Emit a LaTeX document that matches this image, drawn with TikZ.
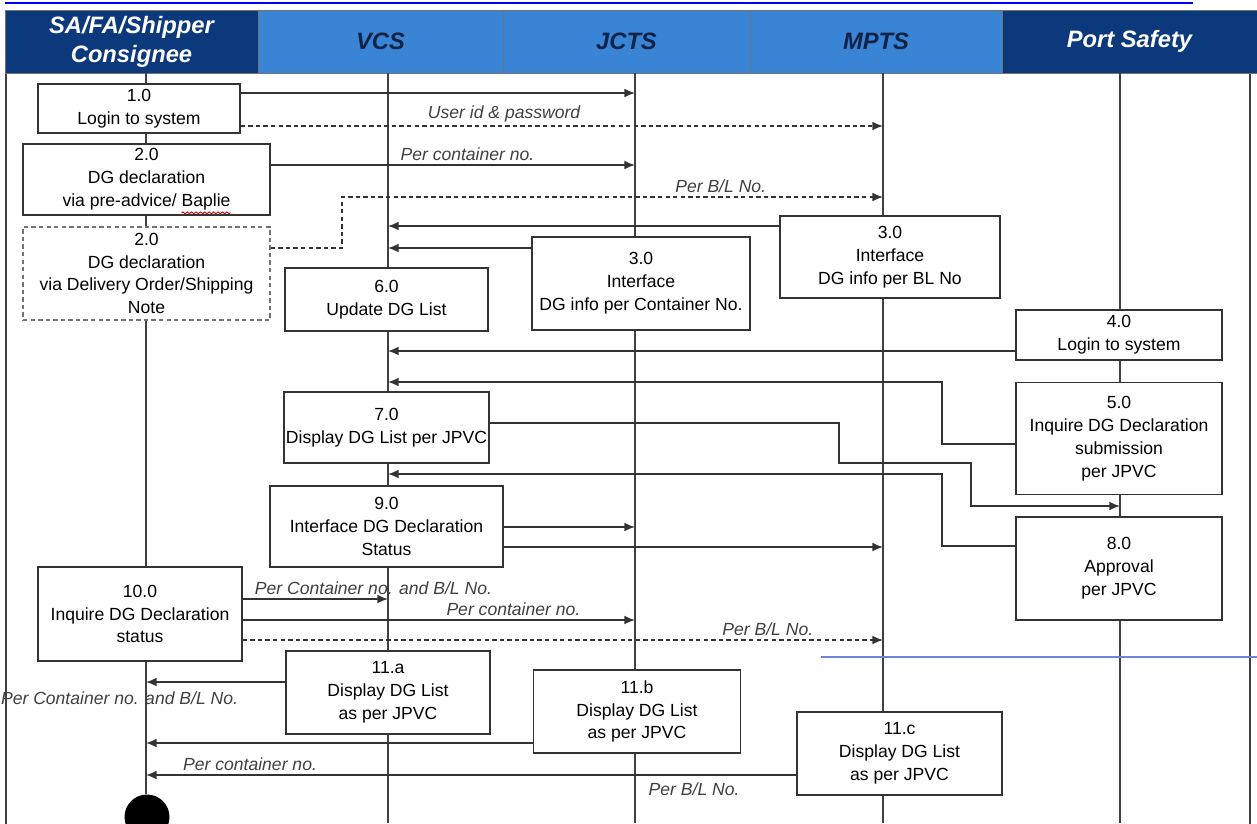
\documentclass[tikz,border=0pt]{standalone}
\usepackage{fontspec}
\setmainfont{Liberation Sans}
\usetikzlibrary{arrows.meta,decorations.pathmorphing}

\definecolor{bleuFonce}{RGB}{12,56,124}
\definecolor{bleuClair}{RGB}{58,132,214}
\definecolor{texteBleu}{RGB}{16,34,70}
\definecolor{traitBleu}{RGB}{110,130,215}

\begin{document}
\begin{tikzpicture}[x=0.02cm,y=-0.02cm]
	% Styles
	\def\px{0.02cm}
	\tikzstyle{entete}=[draw=black!55,line width=0.5pt,minimum height={63*\px},inner sep=0pt,align=center,font=\fontsize{13.5}{16.5}\selectfont\bfseries\itshape]
	\tikzstyle{boite}=[draw=black!80,fill=white,line width=0.9pt,align=center,inner sep=1pt,font=\fontsize{10}{13}\selectfont]
	\tikzstyle{boitePointillee}=[boite,draw=black!55,dash pattern=on 2.5pt off 1.8pt]
	\tikzstyle{ligneVie}=[-,draw=black!75,line width=0.8pt]
	\tikzstyle{fleche}=[-{Latex[length=6pt,width=5pt]},draw=black!80,line width=0.9pt]
	\tikzstyle{flechePointillee}=[fleche,dash pattern=on 2.5pt off 1.8pt]
	\tikzstyle{etiquette}=[inner sep=2pt,text=black!75,font=\fontsize{10}{12}\selectfont\itshape]
	% Dimensions
	\def\xSA{146}
	\def\xVCS{388}
	\def\xJCTS{635}
	\def\xMPTS{883}
	\def\xPS{1120}
	\def\yHaut{73}
	\def\yBas{823}
	% Cadre
	\useasboundingbox (0,0) rectangle (1257,823);
	\draw[blue,line width=1.2pt] (5,3) -- (1193,3);
	\draw[ligneVie] (6,\yHaut) rectangle (1250,840);
	% Entetes
	\node[entete,fill=bleuFonce,text=white,minimum width={253*\px}] (hSA) at (131.5,41.5) {SA/FA/Shipper\\Consignee};
	\node[entete,fill=bleuClair,text=texteBleu,minimum width={245*\px}] (hVCS) at (380.5,41.5) {VCS};
	\node[entete,fill=bleuClair,text=texteBleu,minimum width={247*\px}] (hJCTS) at (626.5,41.5) {JCTS};
	\node[entete,fill=bleuClair,text=texteBleu,minimum width={252*\px}] (hMPTS) at (876,41.5) {MPTS};
	\node[entete,fill=bleuFonce,text=white,minimum width={255*\px}] (hPS) at (1129.5,41.5) {Port Safety};
	% Lignes de vie
	\coordinate (lSA) at (\xSA,\yHaut);
	\coordinate (lVCS) at (\xVCS,\yHaut);
	\coordinate (lJCTS) at (\xJCTS,\yHaut);
	\coordinate (lMPTS) at (\xMPTS,\yHaut);
	\coordinate (lPS) at (\xPS,\yHaut);
	\node[circle,fill=black,minimum size={45*\px},inner sep=0pt] (fin) at (\xSA+1,817) {};
	\draw[ligneVie] (lSA) -- (lSA |- fin.north);
	\draw[ligneVie] (lVCS) -- (lVCS |- 0,\yBas);
	\draw[ligneVie] (lJCTS) -- (lJCTS |- 0,\yBas);
	\draw[ligneVie] (lMPTS) -- (lMPTS |- 0,\yBas);
	\draw[ligneVie] (lPS) -- (lPS |- 0,\yBas);
	% Noeuds
	\node[boite,minimum width={202*\px},minimum height={49*\px}] (b1) at (139,108.5) {1.0\\Login to system};
	\node[boite,minimum width={247*\px},minimum height={71*\px}] (b2) at (146.5,179.5) {2.0\\DG declaration\\via pre-advice/ Baplie};
	\node[boitePointillee,minimum width={247*\px},minimum height={93*\px}] (b2b) at (146.5,273.5) {2.0\\DG declaration\\via Delivery Order/Shipping\\Note};
	\node[boite,minimum width={218*\px},minimum height={93*\px}] (b3a) at (641,283.5) {3.0\\Interface\\DG info per Container No.};
	\node[boite,minimum width={220*\px},minimum height={82*\px}] (b3b) at (890,257) {3.0\\Interface\\DG info per BL No};
	\node[boite,minimum width={203*\px},minimum height={63*\px}] (b6) at (386.5,299.5) {6.0\\Update DG List};
	\node[boite,minimum width={206*\px},minimum height={50*\px}] (b4) at (1119,335) {4.0\\Login to system};
	\node[boite,minimum width={206*\px},minimum height={112*\px}] (b5) at (1119,438.5) {5.0\\Inquire DG Declaration\\submission\\per JPVC};
	\node[boite,minimum width={203*\px},minimum height={71*\px}] (b7) at (386.5,427.5) {7.0\\Display DG List per JPVC};
	\node[boite,minimum width={233*\px},minimum height={81*\px}] (b9) at (386.5,526.5) {9.0\\Interface DG Declaration\\Status};
	\node[boite,minimum width={206*\px},minimum height={103*\px}] (b8) at (1119,568.5) {8.0\\Approval\\per JPVC};
	\node[boite,minimum width={204*\px},minimum height={94*\px}] (b10) at (140,614) {10.0\\Inquire DG Declaration\\status};
	\node[boite,minimum width={204*\px},minimum height={83*\px}] (b11a) at (388,692.5) {11.a\\Display DG List\\as per JPVC};
	\node[boite,minimum width={207*\px},minimum height={83*\px}] (b11b) at (637,711.5) {11.b\\Display DG List\\as per JPVC};
	\node[boite,minimum width={205*\px},minimum height={83*\px}] (b11c) at (899.5,753.5) {11.c\\Display DG List\\as per JPVC};
	\draw[red!80!black,line width=0.5pt,decorate,decoration={snake,amplitude=0.5pt,segment length=2.5pt}] ([shift={(35,-3)}]b2.south) -- ([shift={(84,-3)}]b2.south);
	% Coudes
	\coordinate (coudeA) at (342,197);
	\coordinate (coudeB) at (942,382);
	\coordinate (coudeC) at (839,463);
	\coordinate (coudeD) at (971,506);
	\coordinate (coudeE) at (942,474);
	% Arcs
	\draw[fleche] (b1.east |- 0,93) -- (lJCTS |- 0,93);
	\draw[flechePointillee] (b1.east |- 0,126) -- (lMPTS |- 0,126) node[etiquette,pos=0.41,above] {User id \& password};
	\draw[fleche] (b2.east |- 0,165) -- (lJCTS |- 0,165) node[etiquette,pos=0.54,above] {Per container no.};
	\draw[flechePointillee] (b2b.east |- 0,248) -| (coudeA) -- (lMPTS |- coudeA) node[etiquette,pos=0.7,above] {Per B/L No.};
	\draw[fleche] (b3b.west |- 0,226) -- (lVCS |- 0,226);
	\draw[fleche] (b3a.west |- 0,248) -- (lVCS |- 0,248);
	\draw[fleche] (b4.west |- 0,351) -- (lVCS |- 0,351);
	\draw[fleche] (b5.west |- 0,444) -| (coudeB) -- (lVCS |- coudeB);
	\draw[fleche] (b7.east |- 0,423) -| (coudeC) -| (coudeD) -- (lPS |- coudeD);
	\draw[fleche] (b8.west |- 0,546) -| (coudeE) -- (lVCS |- coudeE);
	\draw[fleche] (b9.east |- 0,527) -- (lJCTS |- 0,527);
	\draw[fleche] (b9.east |- 0,547) -- (lMPTS |- 0,547);
	\draw[fleche] (b10.east |- 0,599) -- (lVCS |- 0,599) node[etiquette,pos=0.9,above] {Per Container no. and B/L No.};
	\draw[fleche] (b10.east |- 0,620) -- (lJCTS |- 0,620) node[etiquette,pos=0.69,above] {Per container no.};
	\draw[flechePointillee] (b10.east |- 0,640) -- (lMPTS |- 0,640) node[etiquette,pos=0.82,above] {Per B/L No.};
	\draw[fleche] (b11a.west |- 0,682) -- (lSA |- 0,682) node[etiquette,pos=1.19,below=3pt] {Per Container no. and B/L No.};
	\draw[fleche] (b11b.west |- 0,743) -- (lSA |- 0,743);
	\draw[fleche] (b11c.west |- 0,775) -- (lSA |- 0,775) node[etiquette,pos=0.84,above] {Per container no.} node[etiquette,pos=0.157,below=2pt] {Per B/L No.};
	% Trait bleu
	\draw[traitBleu,line width=0.6pt] (821,657) -- (1257,657);
\end{tikzpicture}
\end{document}
